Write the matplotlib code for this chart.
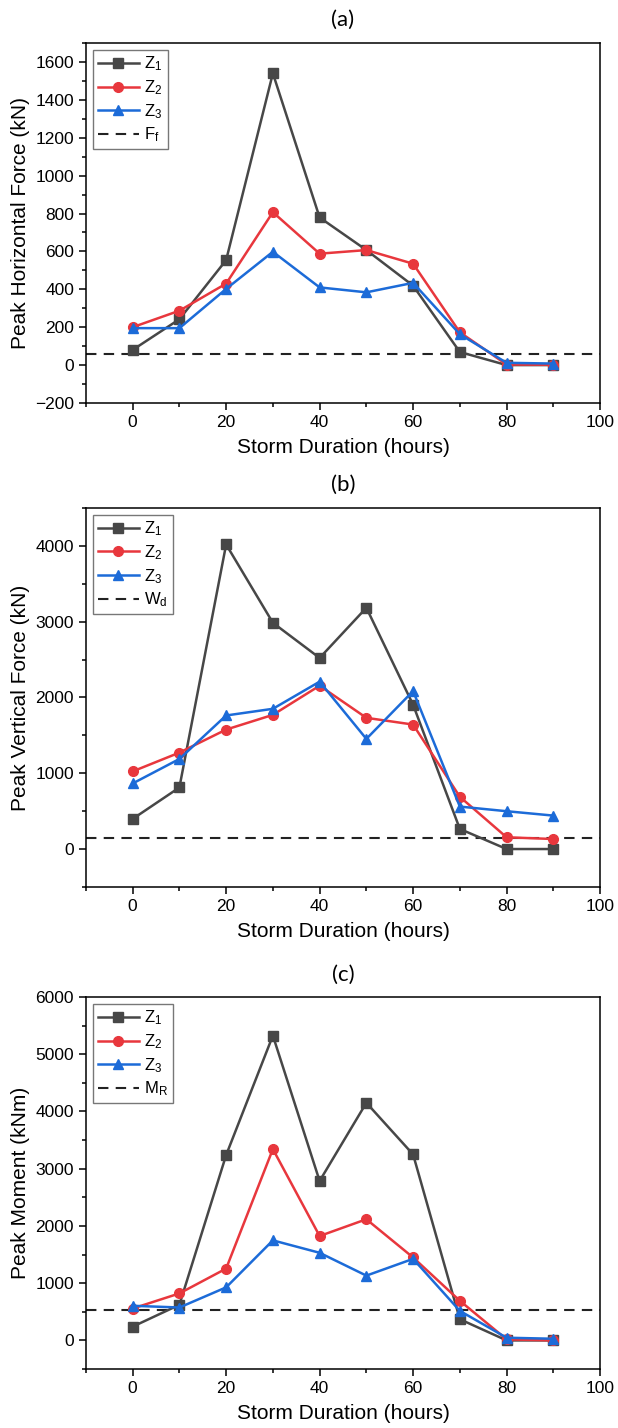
import numpy as np
import matplotlib
matplotlib.use("Agg")
import matplotlib.pyplot as plt
from matplotlib.ticker import MultipleLocator

plt.rcParams['font.family'] = ['Liberation Sans', 'DejaVu Sans']
plt.rcParams['mathtext.fontset'] = 'custom'
plt.rcParams['mathtext.rm'] = 'Liberation Sans'
plt.rcParams['mathtext.it'] = 'Liberation Sans'

# storm duration (hours)
hours = [0, 10, 20, 30, 40, 50, 60, 70, 80, 90]

# (a) peak horizontal force (kN)
horiz_z1 = [80, 242, 554, 1540, 779, 607, 419, 69, 0, 0]
horiz_z2 = [200, 287, 430, 807, 588, 607, 535, 173, 3, 2]
horiz_z3 = [195, 195, 402, 598, 410, 384, 434, 163, 12, 8]
horiz_ref = 57   # F_f

# (b) peak vertical force (kN)
vert_z1 = [397, 812, 4018, 2985, 2521, 3183, 1903, 265, 0, 0]
vert_z2 = [1024, 1272, 1576, 1770, 2155, 1731, 1642, 689, 155, 132]
vert_z3 = [865, 1188, 1762, 1850, 2208, 1453, 2084, 560, 499, 441]
vert_ref = 141   # W_d

# (c) peak moment (kNm)
mom_z1 = [240, 622, 3238, 5326, 2786, 4152, 3249, 370, 0, 0]
mom_z2 = [557, 821, 1255, 3343, 1824, 2117, 1449, 692, 18, 0]
mom_z3 = [605, 575, 927, 1748, 1531, 1132, 1425, 516, 47, 29]
mom_ref = 540    # M_R

c1 = '#474747'
c2 = '#e8373d'
c3 = '#1c6bd8'

fig = plt.figure(figsize=(6.18, 14.28), dpi=100)

panels = [
    dict(rect=[0.139, 0.7178, 0.832, 0.2521], title='(a)',
         z=(horiz_z1, horiz_z2, horiz_z3), ref=horiz_ref, reflab=r'F$_\mathrm{f}$',
         ylabel='Peak Horizontal Force (kN)', ylim=(-200, 1700), major=200, minor=100),
    dict(rect=[0.139, 0.3789, 0.832, 0.2654], title='(b)',
         z=(vert_z1, vert_z2, vert_z3), ref=vert_ref, reflab=r'W$_\mathrm{d}$',
         ylabel='Peak Vertical Force (kN)', ylim=(-500, 4500), major=1000, minor=500),
    dict(rect=[0.139, 0.0413, 0.832, 0.2605], title='(c)',
         z=(mom_z1, mom_z2, mom_z3), ref=mom_ref, reflab=r'M$_\mathrm{R}$',
         ylabel='Peak Moment (kNm)', ylim=(-500, 6000), major=1000, minor=500),
]

for p in panels:
    ax = fig.add_axes(p['rect'])
    z1, z2, z3 = p['z']
    ax.plot(hours, z1, color=c1, lw=1.8, marker='s', ms=6.5, label=r'Z$_1$', zorder=3)
    ax.plot(hours, z2, color=c2, lw=1.8, marker='o', ms=7, label=r'Z$_2$', zorder=3)
    ax.plot(hours, z3, color=c3, lw=1.8, marker='^', ms=7.5, label=r'Z$_3$', zorder=4)
    ax.axhline(p['ref'], color='#222222', lw=1.5, ls=(0, (5, 3.5)), label=p['reflab'], zorder=2)

    ax.set_xlim(-10, 100)
    ax.set_ylim(*p['ylim'])
    ax.xaxis.set_major_locator(MultipleLocator(20))
    ax.xaxis.set_minor_locator(MultipleLocator(10))
    ax.yaxis.set_major_locator(MultipleLocator(p['major']))
    ax.yaxis.set_minor_locator(MultipleLocator(p['minor']))
    ax.tick_params(which='both', direction='out', top=False, right=False, labelsize=12.5)
    ax.tick_params(which='major', length=5, width=1.1)
    ax.tick_params(which='minor', length=3, width=1.1)
    for s in ax.spines.values():
        s.set_linewidth(1.1)

    ax.set_xlabel('Storm Duration (hours)', fontsize=15, labelpad=6)
    ax.set_ylabel(p['ylabel'], fontsize=15, labelpad=4)
    ax.set_title(p['title'], fontsize=16, pad=12, family=['Lato', 'DejaVu Sans'])

    leg = ax.legend(loc='upper left', fontsize=12, handlelength=2.5, handletextpad=0.3,
                    labelspacing=0.3, borderpad=0.3, borderaxespad=0.4, fancybox=False)
    leg.get_frame().set_edgecolor('#555555')
    leg.get_frame().set_linewidth(1.0)

fig.savefig('out.png', dpi=100)
